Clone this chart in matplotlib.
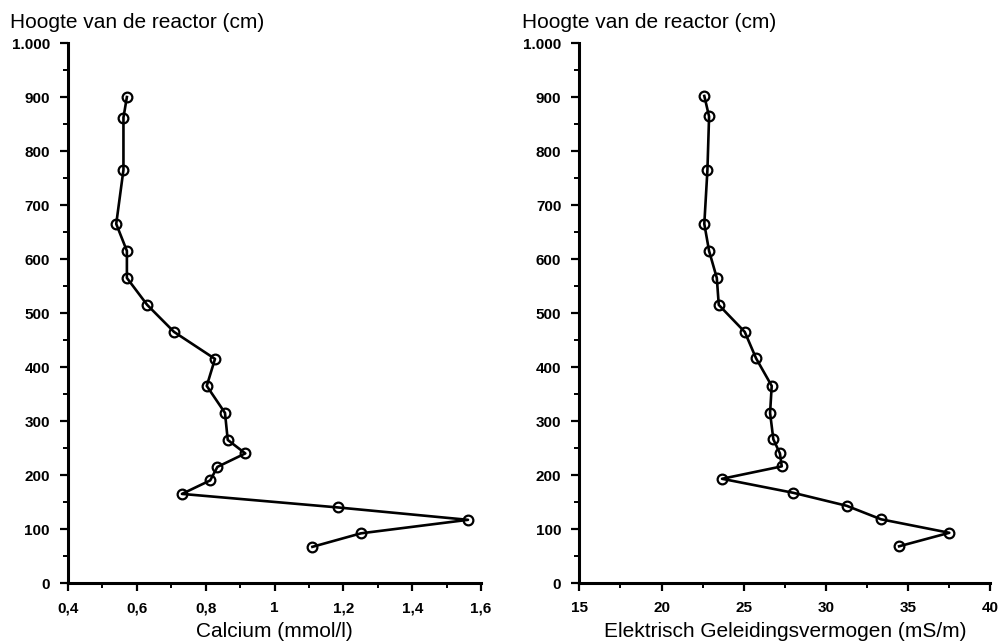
import numpy as np
import matplotlib
matplotlib.use("Agg")
import matplotlib.pyplot as plt
from matplotlib.ticker import MultipleLocator, FuncFormatter

plt.rcParams['font.family'] = ['Liberation Sans', 'DejaVu Sans']

# reactor heights (cm), shared by both profiles
hoogte = [900, 862, 765, 665, 615, 565, 515, 465, 415, 365,
          315, 265, 240, 215, 190, 165, 140, 117, 92, 67]

# left profile: calcium (mmol/l)
calcium = [0.571, 0.561, 0.561, 0.540, 0.571, 0.571, 0.630, 0.708, 0.827, 0.803,
           0.856, 0.864, 0.915, 0.834, 0.813, 0.731, 1.183, 1.562, 1.251, 1.110]

# right profile: electrical conductivity (mS/m)
hoogte_ec = [902, 864, 765, 665, 615, 565, 515, 465, 416, 365,
             315, 266, 240, 216, 193, 167, 143, 118, 93, 68]
geleiding = [22.6, 22.89, 22.79, 22.6, 22.89, 23.36, 23.48, 25.06, 25.75, 26.7,
             26.6, 26.8, 27.2, 27.31, 23.68, 28.02, 31.26, 33.35, 37.5, 34.45]

ytitel = "Hoogte van de reactor (cm)"


def nl_int(v, pos):
    return f"{int(round(v)):,}".replace(",", ".")


def nl_dec(v, pos):
    return f"{v:g}".replace(".", ",")


def style_axes(ax):
    for s in ["top", "right"]:
        ax.spines[s].set_visible(False)
    for s in ["left", "bottom"]:
        ax.spines[s].set_linewidth(2.2)
    ax.set_ylim(0, 1000)
    ax.yaxis.set_major_locator(MultipleLocator(100))
    ax.yaxis.set_minor_locator(MultipleLocator(50))
    ax.yaxis.set_major_formatter(FuncFormatter(nl_int))
    ax.tick_params(which="major", length=6, width=1.6, pad=7, labelsize=11)
    ax.tick_params(which="minor", length=3.5, width=1.4)
    for lab in ax.get_xticklabels() + ax.get_yticklabels():
        lab.set_fontweight("bold")


fig = plt.figure(figsize=(10.02, 6.43), dpi=100)

ax1 = fig.add_axes([0.0679, 0.0933, 0.4122, 0.8398])
ax1.plot(calcium, hoogte, color="black", lw=1.9, marker="o", ms=7,
         mfc="none", mec="black", mew=1.6)
ax1.set_xlim(0.4, 1.6)
ax1.xaxis.set_major_locator(MultipleLocator(0.2))
ax1.xaxis.set_minor_locator(MultipleLocator(0.1))
ax1.xaxis.set_major_formatter(FuncFormatter(nl_dec))
ax1.set_xlabel("Calcium (mmol/l)", fontsize=15, labelpad=5)
style_axes(ax1)

ax2 = fig.add_axes([0.5782, 0.0933, 0.4102, 0.8398])
ax2.plot(geleiding, hoogte_ec, color="black", lw=1.9, marker="o", ms=7,
         mfc="none", mec="black", mew=1.6)
ax2.set_xlim(15, 40)
ax2.xaxis.set_major_locator(MultipleLocator(5))
ax2.xaxis.set_minor_locator(MultipleLocator(2.5))
ax2.xaxis.set_major_formatter(FuncFormatter(nl_dec))
ax2.set_xlabel("Elektrisch Geleidingsvermogen (mS/m)", fontsize=15, labelpad=5)
style_axes(ax2)

fig.text(0.010, 0.9565, ytitel, fontsize=15, va="baseline", ha="left")
fig.text(0.5207, 0.9565, ytitel, fontsize=15, va="baseline", ha="left")

fig.savefig("out.png", dpi=100)
